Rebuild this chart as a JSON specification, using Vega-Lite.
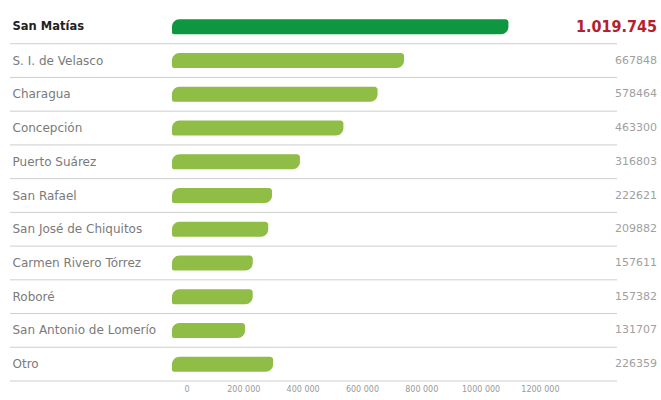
{
  "$schema": "https://vega.github.io/schema/vega-lite/v6.json",
  "autosize": {"type": "none"},
  "padding": {"left": 184, "top": 10, "right": 44, "bottom": 19},
  "width": 433,
  "height": 371,
  "background": "white",
  "config": {"view": {"stroke": null}, "font": "DejaVu Sans"},
  "data": {"values": [
    {"name": "San Matías", "value": 1019745, "label": "1.019.745"},
    {"name": "S. I. de Velasco", "value": 667848, "label": "667848"},
    {"name": "Charagua", "value": 578464, "label": "578464"},
    {"name": "Concepción", "value": 463300, "label": "463300"},
    {"name": "Puerto Suárez", "value": 316803, "label": "316803"},
    {"name": "San Rafael", "value": 222621, "label": "222621"},
    {"name": "San José de Chiquitos", "value": 209882, "label": "209882"},
    {"name": "Carmen Rivero Tórrez", "value": 157611, "label": "157611"},
    {"name": "Roboré", "value": 157382, "label": "157382"},
    {"name": "San Antonio de Lomerío", "value": 131707, "label": "131707"},
    {"name": "Otro", "value": 226359, "label": "226359"}
  ]},
  "encoding": {
    "y": {
      "field": "name", "type": "nominal", "sort": null,
      "scale": {"paddingInner": 0, "paddingOuter": 0},
      "axis": {
        "title": null, "domain": false, "ticks": false,
        "labelAlign": "left", "labelPadding": 172,
        "labelFont": "DejaVu Sans",
        "labelFontSize": {"expr": "datum.value === 'San Matías' ? 11.5 : 12"},
        "labelFontWeight": {"expr": "datum.value === 'San Matías' ? 'bold' : 'normal'"},
        "labelColor": {"expr": "datum.value === 'San Matías' ? '#222222' : '#7a7a7a'"}
      }
    }
  },
  "layer": [
    {
      "mark": {"type": "rule", "color": "#cfcfcf", "strokeWidth": 1, "xOffset": -174},
      "encoding": {
        "y": {"field": "name", "type": "nominal", "sort": null, "bandPosition": 1},
        "x": {"datum": 0, "type": "quantitative"},
        "x2": {"datum": 1460000}
      }
    },
    {
      "mark": {"type": "bar", "size": 15, "cornerRadiusTopLeft": 8, "cornerRadiusBottomRight": 8, "cornerRadiusTopRight": 3, "cornerRadiusBottomLeft": 2, "xOffset": 22, "x2Offset": -12},
      "encoding": {
        "x": {
          "field": "value", "type": "quantitative", "stack": null,
          "scale": {"domain": [0, 1460000], "nice": false},
          "axis": {
            "title": null, "domain": false, "ticks": false, "grid": false,
            "values": [0, 200000, 400000, 600000, 800000, 1000000, 1200000],
            "labelExpr": "datum.value == 0 ? '0' : (datum.value / 1000) + ' 000'",
            "labelFont": "DejaVu Sans",
            "labelFontSize": 8, "labelColor": "#999999", "labelPadding": 4
          }
        },
        "x2": {"datum": 0},
        "color": {
          "condition": {"test": "datum.name === 'San Matías'", "value": "#0e9640"},
          "value": "#8fbd46"
        }
      }
    },
    {
      "transform": [{"filter": "datum.name !== 'San Matías'"}],
      "mark": {"type": "text", "align": "right", "baseline": "middle", "dx": 40, "fontSize": 11, "color": "#a0a0a0", "font": "DejaVu Sans"},
      "encoding": {
        "x": {"datum": 1460000, "type": "quantitative"},
        "text": {"field": "label"}
      }
    },
    {
      "transform": [{"filter": "datum.name === 'San Matías'"}],
      "mark": {"type": "text", "align": "right", "baseline": "middle", "dx": 40, "fontSize": 16, "fontWeight": "bold", "color": "#b5202e", "font": "DejaVu Sans Condensed"},
      "encoding": {
        "x": {"datum": 1460000, "type": "quantitative"},
        "text": {"field": "label"}
      }
    }
  ]
}
